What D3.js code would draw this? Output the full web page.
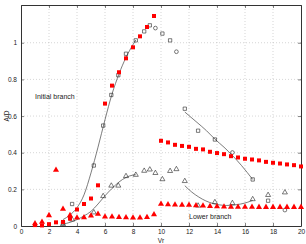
<!DOCTYPE html>
<html>
<head>
<meta charset="utf-8">
<script src="https://cdn.jsdelivr.net/npm/d3@7"></script>
<style>
  body { margin: 0; background: #fff; }
  text { font-family: "Liberation Sans", Arial, sans-serif; }
</style>
</head>
<body>
<div id="chart"></div>
<script>
// experiment, initial branch (red filled squares)
const expInitX = [1, 1.5, 2, 2.5, 3, 3.5, 4, 4.5, 5, 5.5, 6, 6.5, 7, 7.5, 8, 8.5, 9, 9.5];
const expInitY = [0.005, 0.003, 0.01, 0.02, 0.022, 0.04, 0.09, 0.12, 0.15, 0.222, 0.668, 0.766, 0.839, 0.915, 0.975, 1.035, 1.086, 1.146];
// experiment, upper branch after jump (red filled squares)
const expUpperX = [10, 10.5, 11, 11.5, 12, 12.5, 13, 13.5, 14, 14.5, 15, 15.5, 16, 16.5, 17, 17.5, 18, 18.5, 19, 19.5, 20];
const expUpperY = [0.465, 0.456, 0.443, 0.437, 0.432, 0.421, 0.418, 0.405, 0.398, 0.392, 0.381, 0.374, 0.367, 0.363, 0.358, 0.35, 0.345, 0.341, 0.336, 0.332, 0.325];
// experiment, lower branch (red filled triangles)
const expLowerX = [1, 1.5, 2, 2.5, 3, 3.5, 4, 4.5, 5, 5.5, 6, 6.5, 7, 7.5, 8, 8.5, 9, 9.5, 10, 10.5, 11, 11.5, 12, 12.5, 13, 13.5, 14, 14.5, 15, 15.5, 16, 16.5, 17, 17.5, 18, 18.5, 19, 19.5, 20];
const expLowerY = [0.013, 0.022, 0.058, 0.305, 0.093, 0.058, 0.045, 0.047, 0.056, 0.065, 0.05, 0.05, 0.048, 0.046, 0.045, 0.045, 0.048, 0.063, 0.12, 0.117, 0.116, 0.115, 0.114, 0.112, 0.11, 0.108, 0.106, 0.105, 0.104, 0.104, 0.104, 0.104, 0.103, 0.103, 0.103, 0.103, 0.103, 0.103, 0.103];
// simulation, one amplitude (open squares / open circles)
const simSqX = [3.0, 3.65, 5.2, 5.87, 6.45, 6.95, 7.5, 8.2, 8.8, 9.2, 10.1, 10.65, 11.7, 12.65, 13.85, 16.55, 17.65];
const simSqY = [0.016, 0.12, 0.33, 0.548, 0.715, 0.823, 0.94, 1.013, 1.062, 1.095, 1.05, 1.013, 0.64, 0.52, 0.472, 0.254, 0.138];
const simCircX = [9.6, 11.1, 15.1, 18.85];
const simCircY = [1.08, 0.951, 0.401, 0.087];
// simulation, other amplitude (open triangles)
const simTriX = [3.0, 3.65, 5.2, 5.87, 6.45, 6.95, 7.5, 8.2, 8.8, 9.2, 9.6, 10.1, 10.65, 11.1, 11.7, 12.65, 13.85, 15.1, 16.55, 17.65, 18.85];
const simTriY = [0.01, 0.035, 0.074, 0.163, 0.22, 0.22, 0.272, 0.279, 0.301, 0.308, 0.289, 0.255, 0.3, 0.31, 0.245, 0.111, 0.13, 0.125, 0.146, 0.169, 0.183];
// fitted curves
const fitInitX = [3.0, 3.5, 4, 4.5, 5, 5.5, 6, 6.5, 7, 7.5, 8, 8.2];
const fitInitY = [0.035, 0.06, 0.1, 0.17, 0.29, 0.43, 0.58, 0.72, 0.83, 0.92, 0.99, 1.015];
const fitLowX = [3.0, 3.5, 4, 4.5, 5, 5.5, 6, 6.5, 7, 7.5, 8, 8.2];
const fitLowY = [0.01, 0.02, 0.035, 0.055, 0.08, 0.12, 0.165, 0.205, 0.24, 0.265, 0.278, 0.28];
const fitDescX = [11.7, 12.5, 13.25, 13.85, 14.5, 15.1, 15.75, 16.55];
const fitDescY = [0.622, 0.57, 0.52, 0.474, 0.43, 0.385, 0.33, 0.254];
const fitValleyX = [11.7, 12.2, 12.7, 13.2, 13.7, 14.2, 14.7, 15.2, 15.7, 16.2, 16.55];
const fitValleyY = [0.22, 0.185, 0.158, 0.137, 0.123, 0.115, 0.112, 0.114, 0.12, 0.13, 0.14];

const xTicks = [0, 2, 4, 6, 8, 10, 12, 14, 16, 18, 20];
const yTicks = [0, 0.2, 0.4, 0.6, 0.8, 1];

const width = 306, height = 244;
const margin = { top: 5, right: 5, bottom: 18, left: 21 };

const svg = d3.select("#chart").append("svg")
  .attr("width", width).attr("height", height);

const xScale = d3.scaleLinear().domain([0, 20]).range([margin.left, width - margin.right]);
const yScale = d3.scaleLinear().domain([0, 1.206]).range([height - margin.bottom, margin.top]);

const zip = (xs, ys) => xs.map((x, i) => [x, ys[i]]);

// grid
svg.append("g").selectAll("line").data(xTicks.slice(1, -1)).join("line")
  .attr("x1", d => xScale(d)).attr("x2", d => xScale(d))
  .attr("y1", yScale.range()[0]).attr("y2", yScale.range()[1])
  .attr("stroke", "#bbb").attr("stroke-width", 0.6).attr("stroke-dasharray", "1,2");
svg.append("g").selectAll("line").data(yTicks.slice(1)).join("line")
  .attr("y1", d => yScale(d)).attr("y2", d => yScale(d))
  .attr("x1", xScale.range()[0]).attr("x2", xScale.range()[1])
  .attr("stroke", "#bbb").attr("stroke-width", 0.6).attr("stroke-dasharray", "1,2");

// axes (ticks inside, box)
const axisColor = "#333";
const xAxis = svg.append("g").attr("transform", `translate(0,${yScale(0)})`)
  .call(d3.axisBottom(xScale).tickValues(xTicks).tickSizeInner(-3).tickSizeOuter(0).tickPadding(4).tickFormat(d3.format("d")));
const xAxisTop = svg.append("g").attr("transform", `translate(0,${margin.top})`)
  .call(d3.axisTop(xScale).tickValues(xTicks).tickSizeInner(-3).tickSizeOuter(0).tickFormat(""));
const yAxis = svg.append("g").attr("transform", `translate(${xScale(0)},0)`)
  .call(d3.axisLeft(yScale).tickValues(yTicks).tickSizeInner(-3).tickSizeOuter(0).tickPadding(4).tickFormat(d => d === 0 || d === 1 ? d : d3.format(".1f")(d)));
const yAxisRight = svg.append("g").attr("transform", `translate(${xScale(20)},0)`)
  .call(d3.axisRight(yScale).tickValues(yTicks).tickSizeInner(-3).tickSizeOuter(0).tickFormat(""));

[xAxis, xAxisTop, yAxis, yAxisRight].forEach(a => {
  a.select(".domain").attr("stroke", axisColor).attr("stroke-width", 1);
  a.selectAll(".tick line").attr("stroke", axisColor).attr("stroke-width", 0.6);
  a.selectAll("text").attr("fill", "#222").style("font-size", "6.5px").style("font-family", "Liberation Sans, Arial, sans-serif");
});
xAxis.selectAll("text").attr("dy", "0.6em");

// axis labels
svg.append("text").attr("x", xScale(10)).attr("y", 243)
  .attr("text-anchor", "middle").attr("fill", "#222").style("font-size", "6.5px").text("Vr");
svg.append("text").attr("transform", `translate(9,${yScale(0.6)}) rotate(-90)`)
  .attr("text-anchor", "middle").attr("fill", "#222").style("font-size", "6.5px").text("A/D");

// fitted lines
const line = d3.line().x(d => xScale(d[0])).y(d => yScale(d[1])).curve(d3.curveMonotoneX);
[[fitInitX, fitInitY], [fitLowX, fitLowY], [fitDescX, fitDescY], [fitValleyX, fitValleyY]].forEach(([xs, ys]) => {
  svg.append("path").datum(zip(xs, ys)).attr("d", line)
    .attr("fill", "none").attr("stroke", "#444").attr("stroke-width", 0.7);
});

// markers
const sq = d3.symbol().type(d3.symbolSquare);
const tri = d3.symbol().type(d3.symbolTriangle);
const circ = d3.symbol().type(d3.symbolCircle);

function drawMarkers(xs, ys, gen, size, fill, stroke) {
  svg.append("g").selectAll("path").data(zip(xs, ys)).join("path")
    .attr("transform", d => `translate(${xScale(d[0])},${yScale(d[1])})`)
    .attr("d", gen.size(size)())
    .attr("fill", fill)
    .attr("stroke", stroke)
    .attr("stroke-width", stroke === "none" ? 0 : 0.6);
}

drawMarkers(simSqX, simSqY, sq, 11, "none", "#222");
drawMarkers(simCircX, simCircY, circ, 11, "none", "#222");
drawMarkers(simTriX, simTriY, tri, 11, "none", "#222");
drawMarkers(expInitX, expInitY, sq, 16, "#f00", "none");
drawMarkers(expUpperX, expUpperY, sq, 16, "#f00", "none");
drawMarkers(expLowerX, expLowerY, tri, 16, "#f00", "none");

// annotations
svg.append("text").attr("x", xScale(1.0)).attr("y", yScale(0.695))
  .attr("fill", "#222").style("font-size", "7px").text("Initial branch");
svg.append("text").attr("x", xScale(12.0)).attr("y", yScale(0.04))
  .attr("fill", "#222").style("font-size", "7px").text("Lower branch");
</script>
</body>
</html>
